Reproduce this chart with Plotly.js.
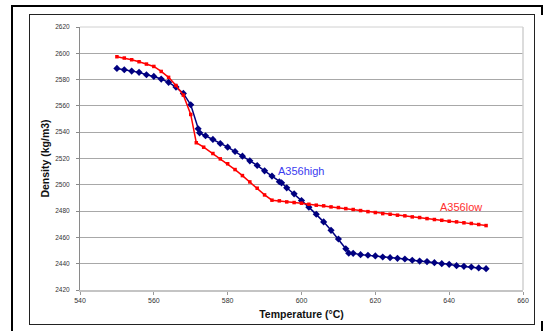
<!DOCTYPE html>
<html>
<head>
<meta charset="utf-8">
<script src="https://cdn.plot.ly/plotly-3.0.1.min.js"></script>
<style>
html,body{margin:0;padding:0;background:#fff;}
#wrap{position:relative;width:553px;height:331px;overflow:hidden;}
#chart{position:absolute;left:0;top:0;width:553px;height:331px;}
.fr{position:absolute;pointer-events:none;background:#000;}
</style>
</head>
<body>
<div id="wrap">
<div id="chart"></div>
<div class="fr" style="left:11px;top:5px;width:532px;height:2px;"></div>
<div class="fr" style="left:11px;top:5px;width:2px;height:330px;"></div>
<div class="fr" style="left:541px;top:5px;width:2px;height:10px;"></div>
<div class="fr" style="left:541px;top:321px;width:2px;height:12px;"></div>
<div class="fr" style="left:29px;top:14px;width:506px;height:1px;background:#222;"></div>
<div class="fr" style="left:29px;top:324px;width:506px;height:1px;background:#222;"></div>
<div class="fr" style="left:29px;top:14px;width:1px;height:311px;background:#222;"></div>
<div class="fr" style="left:534px;top:14px;width:1px;height:311px;background:#222;"></div>
</div>
<script>
const highT = [550,552,554,556,558,560,562,564,566,568,570,572,572.4,574,576,578,580,582,584,586,588,590,592,594,594.6,596,598,600,602,604,606,608,610,612,612.8,614,616,618,620,622,624,626,628,630,632,634,636,638,640,642,644,646,648,650];
const highD = [2588.5,2587.5,2586.5,2585.5,2583.7,2582.4,2580.4,2577.9,2574.3,2569.5,2560.9,2542.6,2539.5,2537.3,2534.5,2531.4,2528.6,2525.3,2521.8,2518.2,2514.7,2510.6,2506.6,2502.3,2501.5,2497.7,2493.1,2488,2483,2477.6,2471.8,2465.4,2458.8,2451.4,2448,2447.9,2446.9,2446.4,2445.9,2445.1,2444.6,2444.1,2443.6,2442.6,2442,2441.6,2440.8,2440,2439.5,2438.5,2438,2437.5,2436.8,2436.2];
const lowT = [550,552,554,556,558,560,562,564,566,568,570,571.5,573.5,576,578,580,582,584,586,588,590,592,594,596,598,600,602,604,606,608,610,612,614,616,618,620,622,624,626,628,630,632,634,636,638,640,642,644,646,648,650];
const lowD = [2597.4,2596.4,2595.1,2593.6,2591.8,2590,2586.2,2581.7,2575.5,2568.2,2553.5,2532,2528.6,2523.8,2519.7,2516,2511.6,2507,2502.2,2497.4,2492.3,2488.3,2487.8,2487.0,2486.5,2486.0,2485.2,2484.5,2484.0,2483.2,2482.7,2481.9,2481.2,2480.4,2479.6,2478.9,2478.1,2477.6,2476.9,2476.4,2475.6,2475.1,2474.3,2473.6,2473.0,2472.3,2471.8,2471.1,2470.6,2469.8,2469.0];
const seriesNames = ['A356high','A356low'];
const xTitle = 'Temperature (°C)';
const yTitle = 'Density (kg/m3)';

const FONT = 'Liberation Sans, Arial, sans-serif';
const traces = [
  {x: highT, y: highD, name: seriesNames[0], type: 'scatter', mode: 'lines+markers',
   line: {color: '#000080', width: 1.5}, marker: {symbol: 'diamond', size: 5.5, color: '#000080'}},
  {x: lowT, y: lowD, name: seriesNames[1], type: 'scatter', mode: 'lines+markers',
   line: {color: '#ff0000', width: 1.5}, marker: {symbol: 'square', size: 3.5, color: '#ff0000'}}
];
const layout = {
  width: 553, height: 331,
  margin: {l: 80, r: 30, t: 27, b: 41},
  paper_bgcolor: '#fff', plot_bgcolor: '#fff',
  showlegend: false,
  font: {family: FONT},
  xaxis: {
    range: [540, 660], dtick: 20, tick0: 540, showgrid: false, zeroline: false,
    showline: true, linecolor: '#c4c4c4', linewidth: 2,
    ticks: 'outside', ticklen: 3, tickcolor: '#9a9a9a', tickwidth: 1,
    tickfont: {size: 7, color: '#333', family: FONT},
    title: {text: xTitle, font: {size: 10.5, color: '#111', family: FONT, weight: 'bold'}, standoff: 7}
  },
  yaxis: {
    range: [2420, 2620], dtick: 20, tick0: 2420, showgrid: true, gridcolor: '#a8a8a8', gridwidth: 1,
    zeroline: false, showline: true, linecolor: '#8a8a8a', linewidth: 1,
    ticks: 'outside', ticklen: 3, tickcolor: '#8a8a8a', tickwidth: 1, ticklabelstandoff: 5,
    tickfont: {size: 6.5, color: '#333', family: FONT},
    title: {text: yTitle, font: {size: 10.5, color: '#111', family: FONT, weight: 'bold'}, standoff: 3}
  },
  shapes: [
    {type: 'line', xref: 'paper', yref: 'paper', x0: 0, x1: 1, y0: 1, y1: 1, line: {color: '#d0d0d0', width: 1}},
    {type: 'line', xref: 'paper', yref: 'paper', x0: 1, x1: 1, y0: 0, y1: 1, line: {color: '#d0d0d0', width: 1.5}}
  ],
  annotations: [
    {x: 593.1, y: 2510.4, xref: 'x', yref: 'y', text: seriesNames[0], showarrow: false, xanchor: 'left', yanchor: 'middle',
     font: {size: 11, color: '#3b3bf0', family: FONT}},
    {x: 637, y: 2483.2, xref: 'x', yref: 'y', text: seriesNames[1], showarrow: false, xanchor: 'left', yanchor: 'middle',
     font: {size: 11, color: '#ff3030', family: FONT}}
  ]
};
Plotly.newPlot('chart', traces, layout, {displayModeBar: false, staticPlot: true});
</script>
</body>
</html>
